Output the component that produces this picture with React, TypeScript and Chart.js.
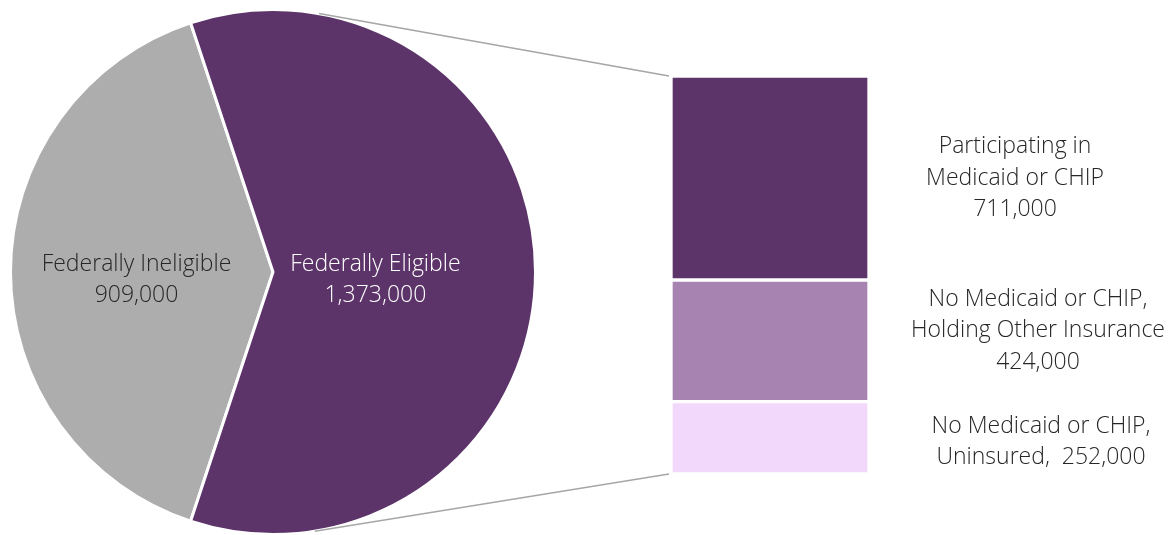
import React, { useEffect, useRef } from "react";
import { Chart, registerables } from "chart.js";

Chart.register(...registerables);

// ---- data ----
const pieCategories = ["Federally Ineligible", "Federally Eligible"];
const pieValues = [909000, 1373000];
const pieColors = ["#ADADAD", "#5C3469"];
const pieLabelColors = ["#262626", "#FFFFFF"];

const barCategories = [
  "No Medicaid or CHIP, Uninsured",
  "No Medicaid or CHIP, Holding Other Insurance",
  "Participating in Medicaid or CHIP",
];
const barValues = [252000, 424000, 711000];
const barColors = ["#F2D9FC", "#A683B0", "#5C3469"];
const barLabelPrefixes = [
  ["No Medicaid or CHIP,", "Uninsured,  "],
  ["No Medicaid or CHIP,", "Holding Other Insurance", ""],
  ["Participating in", "Medicaid or CHIP", ""],
];

// ---- layout ----
const W = 1175;
const H = 535;
const PIE_LEFT = 9;
const PIE_TOP = 8;
const PIE_SIZE = 528;
const PIE_LABEL_RADIUS = [0.52, 0.39];
const PIE_LABEL_DY = 8;
const BAR_PAD = { left: 671, top: 76, right: W - 869, bottom: H - 474 };
const BAR_LABEL_X = [1041, 1038, 1015];
const BAR_LABEL_DY = [4, -10, 0];
const LINE_H = 31.5;
const FONT = "300 23px 'Open Sans', sans-serif";
const TEXT_COLOR = "#262626";

const fmt = (v: number) => v.toLocaleString("en-US");

export default function App() {
  const pieRef = useRef<HTMLCanvasElement>(null);
  const barRef = useRef<HTMLCanvasElement>(null);

  useEffect(() => {
    document.body.style.margin = "0";
    const pieLabels = {
      id: "pieLabels",
      afterDatasetsDraw(chart: any) {
        const ctx = chart.ctx;
        const meta = chart.getDatasetMeta(0);
        ctx.save();
        ctx.font = FONT;
        ctx.textAlign = "center";
        ctx.textBaseline = "middle";
        meta.data.forEach((arc: any, i: number) => {
          const mid = (arc.startAngle + arc.endAngle) / 2;
          const r = arc.outerRadius * PIE_LABEL_RADIUS[i];
          const cx = arc.x + Math.cos(mid) * r;
          const cy = arc.y + Math.sin(mid) * r + PIE_LABEL_DY;
          ctx.fillStyle = pieLabelColors[i];
          ctx.fillText(pieCategories[i], cx, cy - LINE_H / 2);
          ctx.fillText(fmt(pieValues[i]), cx, cy + LINE_H / 2);
        });
        ctx.restore();
      },
    };

    const grayFraction = pieValues[0] / (pieValues[0] + pieValues[1]);
    const pie = new Chart(pieRef.current!, {
      type: "pie",
      data: {
        labels: pieCategories,
        datasets: [
          {
            data: pieValues,
            backgroundColor: pieColors,
            borderColor: "#FFFFFF",
            borderWidth: 3,
          },
        ],
      },
      options: {
        responsive: false,
        animation: false,
        rotation: 270 - grayFraction * 180,
        plugins: { legend: { display: false }, tooltip: { enabled: false } },
        layout: { padding: 0 },
      },
      plugins: [pieLabels],
    });

    const connectors = {
      id: "connectors",
      afterDatasetsDraw(chart: any) {
        const ctx = chart.ctx;
        const arc: any = pie.getDatasetMeta(0).data[0];
        const C = { x: arc.x + PIE_LEFT, y: arc.y + PIE_TOP };
        const R = arc.outerRadius;
        const topBar: any = chart.getDatasetMeta(barValues.length - 1).data[0];
        const botBar: any = chart.getDatasetMeta(0).data[0];
        const left = topBar.x - topBar.width / 2 - 2;
        const tangent = (P: { x: number; y: number }, sign: number) => {
          const d = Math.hypot(P.x - C.x, P.y - C.y);
          const base = Math.atan2(P.y - C.y, P.x - C.x);
          const a = Math.acos(R / d);
          const ang = base + sign * a;
          return { x: C.x + Math.cos(ang) * R, y: C.y + Math.sin(ang) * R };
        };
        const P1 = { x: left, y: topBar.y };
        const P2 = { x: left, y: botBar.base };
        const T1 = tangent(P1, -1);
        const T2 = tangent(P2, 1);
        ctx.save();
        ctx.strokeStyle = "#A6A6A6";
        ctx.lineWidth = 1.5;
        ctx.beginPath();
        ctx.moveTo(T1.x, T1.y);
        ctx.lineTo(P1.x, P1.y);
        ctx.moveTo(T2.x, T2.y);
        ctx.lineTo(P2.x, P2.y);
        ctx.stroke();

        ctx.font = FONT;
        ctx.textAlign = "center";
        ctx.textBaseline = "middle";
        ctx.fillStyle = TEXT_COLOR;
        barValues.forEach((v, i) => {
          const el: any = chart.getDatasetMeta(i).data[0];
          const cy = (el.y + el.base) / 2 + BAR_LABEL_DY[i];
          const lines = barLabelPrefixes[i].slice();
          lines[lines.length - 1] = lines[lines.length - 1] + fmt(v);
          const n = lines.length;
          lines.forEach((t, k) => {
            ctx.fillText(t, BAR_LABEL_X[i], cy + (k - (n - 1) / 2) * LINE_H);
          });
        });
        ctx.restore();
      },
    };

    const total = barValues.reduce((a, b) => a + b, 0);
    const bar = new Chart(barRef.current!, {
      type: "bar",
      data: {
        labels: [""],
        datasets: barValues.map((v, i) => ({
          label: barCategories[i],
          data: [v],
          backgroundColor: barColors[i],
          borderColor: "#FFFFFF",
          borderWidth: 2,
          borderSkipped: false,
          barPercentage: 1,
          categoryPercentage: 1,
        })),
      },
      options: {
        responsive: false,
        animation: false,
        layout: { padding: BAR_PAD },
        scales: {
          x: { stacked: true, display: false },
          y: { stacked: true, display: false, min: 0, max: total },
        },
        plugins: { legend: { display: false }, tooltip: { enabled: false } },
      },
      plugins: [connectors],
    });

    return () => {
      bar.destroy();
      pie.destroy();
    };
  }, []);

  return (
    <div style={{ position: "fixed", left: 0, top: 0, width: W, height: H, background: "#FFFFFF" }}>
      <canvas
        ref={pieRef}
        width={PIE_SIZE}
        height={PIE_SIZE}
        style={{ position: "absolute", left: PIE_LEFT, top: PIE_TOP, width: PIE_SIZE, height: PIE_SIZE }}
      />
      <canvas
        ref={barRef}
        width={W}
        height={H}
        style={{ position: "absolute", left: 0, top: 0, width: W, height: H, pointerEvents: "none" }}
      />
    </div>
  );
}
